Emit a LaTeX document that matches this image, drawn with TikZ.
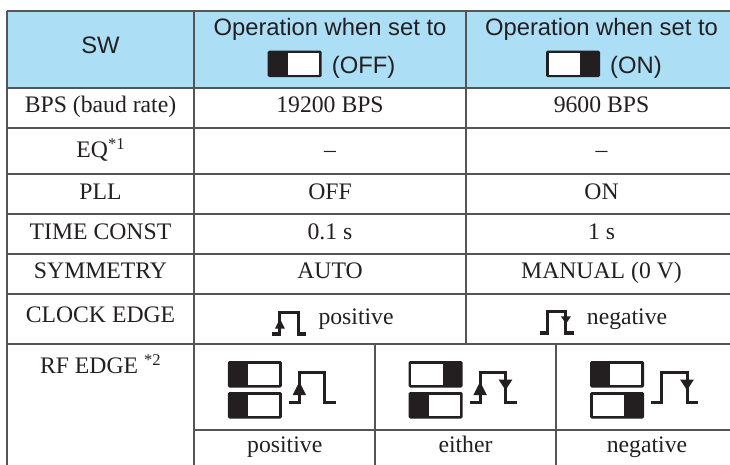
\documentclass[tikz,border=0pt]{standalone}
\usepackage{fontspec}
\setmainfont{Liberation Serif}
\setsansfont{Liberation Sans}
\usepackage{xcolor}
\definecolor{hdrblue}{RGB}{172,222,245}
\definecolor{ink}{RGB}{35,31,32}
\definecolor{rule}{RGB}{85,85,85}
\newcommand{\supmark}[1]{\raisebox{8bp}{\fontsize{16.5bp}{18bp}\selectfont #1}}
\tikzset{
  cell/.style={font=\fontsize{23.7bp}{28bp}\selectfont, text=ink, inner sep=0pt, anchor=base},
  head/.style={cell, font=\sffamily\fontsize{23.8bp}{28bp}\selectfont},
  gridline/.style={draw=rule, line width=1.1bp},
  pulseline/.style={draw=ink, line width=3bp, line join=miter},
  % #1 = left edge of the white window
  pics/dipsw/.style={code={
    \fill[ink, rounded corners=1.5bp] (0,0) rectangle (54,26.5);
    \fill[white] (#1,2.6) rectangle ++(31.4,21.3);
  }},
  pulse/.pic={\draw[pulseline] (0,0) -- (10.6,0) -- (10.6,-30.4) -- (36,-30.4) -- (36,0) -- (47,0);},
  uptip/.pic={\fill[ink] (10.6,-21) -- (3.8,-7.5) -- (17.4,-7.5) -- cycle;},
  dntip/.pic={\fill[ink] (36,-12.5) -- (29.2,-23) -- (42.8,-23) -- cycle;}
}
\begin{document}
\begin{tikzpicture}[x=1bp,y=-1bp]
\useasboundingbox (0,0) rectangle (730,465);
\clip (0,0) rectangle (730,465);
\fill[hdrblue] (7,11) rectangle (740,88);
% table rules
\foreach \y in {11,88,128,174,214,254,294,344}{\draw[gridline] (7,\y) -- (740,\y);}
\draw[gridline] (194,430) -- (740,430);
\draw[gridline] (7,11) -- (7,470);
\draw[gridline] (194,11) -- (194,470);
\draw[gridline] (466,11) -- (466,344);
\foreach \x in {375,556}{\draw[gridline] (\x,344) -- (\x,470);}

% header
\node[head] (sw) at (100.5,54) {SW};
\node[head] (opoff) at (330,35.5) {Operation when set to};
\node[head] (opon) at (601.5,35.5) {Operation when set to};
\pic at (267.7,50.7) {dipsw=20};
\node[head, anchor=base west] (offlbl) at (331.7,74) {(OFF)};
\pic at (546,50.7) {dipsw=2.6};
\node[head, anchor=base west] (onlbl) at (610,74) {(ON)};

% plain rows
\foreach \y/\name/\off/\on [count=\r] in {112.5/BPS (baud rate)/19200 BPS/9600 BPS,
  157.5/EQ\supmark{*1}/--/--, 199.5/PLL/OFF/ON, 239.5/TIME CONST/0.1 s/1 s,
  279/SYMMETRY/AUTO/MANUAL (0 V)}{
  \node[cell] (name\r) at (100.5,\y) {\name};
  \node[cell] (off\r) at (330,\y) {\off};
  \node[cell] (on\r) at (601.5,\y) {\on};
}

% clock edge
\node[cell] (clk) at (100.5,322.5) {CLOCK EDGE};
\pic[scale=.72] at (272.3,334) {pulse};
\pic[scale=.72] at (272.3,334) {uptip};
\node[cell, anchor=base west] (clkpos) at (318.3,325) {positive};
\pic[scale=.72] at (540,333) {pulse};
\pic[scale=.72] at (540,333) {dntip};
\node[cell, anchor=base west] (clkneg) at (586.7,325) {negative};

% rf edge
\node[cell] (rf) at (100.3,373.3) {RF EDGE \supmark{*2}};
\foreach \cx/\up/\dn/\u/\d/\txt [count=\k] in {284.75/20/20/1/0/positive,
  465.5/2.6/20/1/1/either, 647/20/2.6/0/1/negative}{
  \pic at (\cx-57,361) {dipsw=\up};
  \pic at (\cx-57,392) {dipsw=\dn};
  \pic at (\cx+4,402.7) {pulse};
  \ifnum\u=1 \pic at (\cx+4,402.7) {uptip}; \fi
  \ifnum\d=1 \pic at (\cx+4,402.7) {dntip}; \fi
  \node[cell] (rftxt\k) at (\cx,452) {\txt};
}
\end{tikzpicture}
\end{document}
